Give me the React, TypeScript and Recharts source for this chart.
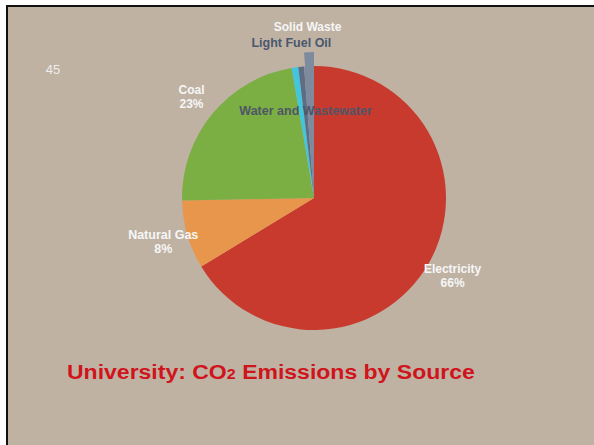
import React from 'react';
import { PieChart, Pie, Cell } from 'recharts';

const SOURCES = ['Electricity', 'Natural Gas', 'Coal', 'Light Fuel Oil', 'Water and Wastewater', 'Solid Waste'];
const SHARES = [66.3, 8.4, 22.6, 0.8, 0.7, 1.2];
const SHOW_PERCENT = [true, true, true, false, false, false];
const EXPLODED = ['Solid Waste'];
const SLIDE_NUMBER = '45';
const TITLE_MAIN = 'University: CO';
const TITLE_SUB = '2';
const TITLE_REST = ' Emissions by Source';

const COLORS = ['#C83A2E', '#E8964B', '#7BAE43', '#42C6DE', '#5E6D84', '#7E8B9E'];

const LABEL_STYLE: Record<string, { r: number; color: string; weight: string; size: number }> = {
  'Electricity': { r: 159, color: '#F6F6F6', weight: 'bold', size: 12 },
  'Natural Gas': { r: 157, color: '#F6F6F6', weight: 'bold', size: 12.5 },
  'Coal': { r: 159, color: '#F6F6F6', weight: 'bold', size: 12 },
  'Light Fuel Oil': { r: 157, color: '#4A586E', weight: 'bold', size: 12.5 },
  'Water and Wastewater': { r: 87, color: '#4E5667', weight: 'bold', size: 12.5 },
  'Solid Waste': { r: 171, color: '#F6F6F6', weight: 'bold', size: 12 },
};

const data = SOURCES.map((name, i) => ({ name, value: SHARES[i], showPct: SHOW_PERCENT[i] }));

const RAD = Math.PI / 180;
const FONT = '"Liberation Sans", Arial, sans-serif';

const renderLabel = (props: any) => {
  const { cx, cy, midAngle, percent, name, payload } = props;
  const st = LABEL_STYLE[name];
  const x = cx + st.r * Math.cos(-midAngle * RAD);
  const y = cy + st.r * Math.sin(-midAngle * RAD);
  const showPct = payload && payload.showPct;
  return (
    <g>
      <text
        x={x}
        y={showPct ? y - 7 : y}
        textAnchor="middle"
        dominantBaseline="central"
        fill={st.color}
        fontFamily={FONT}
        fontWeight={st.weight}
        fontSize={st.size}
      >
        {name}
      </text>
      {showPct && (
        <text
          x={x}
          y={y + 7}
          textAnchor="middle"
          dominantBaseline="central"
          fill={st.color}
          fontFamily={FONT}
          fontWeight={st.weight}
          fontSize={st.size}
        >
          {Math.round(percent * 100)}%
        </text>
      )}
    </g>
  );
};

export default function App() {
  return (
    <div style={{ position: 'fixed', left: 0, top: 0, width: 594, height: 445, background: '#FFFFFF', overflow: 'hidden' }}>
      <div
        style={{
          position: 'absolute',
          left: 6,
          top: 5,
          right: 0,
          bottom: 0,
          borderLeft: '2px solid #111',
          borderTop: '2px solid #111',
          background: '#BFB2A3',
        }}
      />
      <div
        style={{
          position: 'absolute',
          left: 38,
          top: 61,
          width: 30,
          textAlign: 'center',
          fontFamily: FONT,
          fontSize: 13,
          color: '#EEEEEE',
          lineHeight: '18px',
        }}
      >
        {SLIDE_NUMBER}
      </div>
      <div style={{ position: 'absolute', left: 0, top: 0 }}>
        <PieChart width={594} height={445} margin={{ top: 0, right: 0, bottom: 0, left: 0 }}>
          <Pie
            data={data}
            dataKey="value"
            nameKey="name"
            cx={314}
            cy={198}
            outerRadius={132}
            startAngle={90}
            endAngle={-270}
            stroke="none"
            isAnimationActive={false}
            labelLine={false}
            label={renderLabel}
          >
            {data.map((d, i) => (
              <Cell key={d.name} fill={COLORS[i]} />
            ))}
          </Pie>
          <Pie
            data={data}
            dataKey="value"
            nameKey="name"
            cx={314}
            cy={184}
            outerRadius={132}
            startAngle={90}
            endAngle={-270}
            stroke="none"
            isAnimationActive={false}
            labelLine={false}
            label={false}
          >
            {data.map((d, i) => (
              <Cell key={d.name} fill={EXPLODED.includes(d.name) ? COLORS[i] : 'none'} />
            ))}
          </Pie>
        </PieChart>
      </div>
      <div
        style={{
          position: 'absolute',
          left: 67,
          top: 360,
          whiteSpace: 'nowrap',
          fontFamily: FONT,
          fontWeight: 'bold',
          fontSize: 20,
          color: '#D0141C',
          lineHeight: '24px',
          transform: 'scaleX(1.15)',
          transformOrigin: 'left center',
        }}
      >
        {TITLE_MAIN}
        <span style={{ fontSize: 14 }}>{TITLE_SUB}</span>
        {TITLE_REST}
      </div>
    </div>
  );
}
